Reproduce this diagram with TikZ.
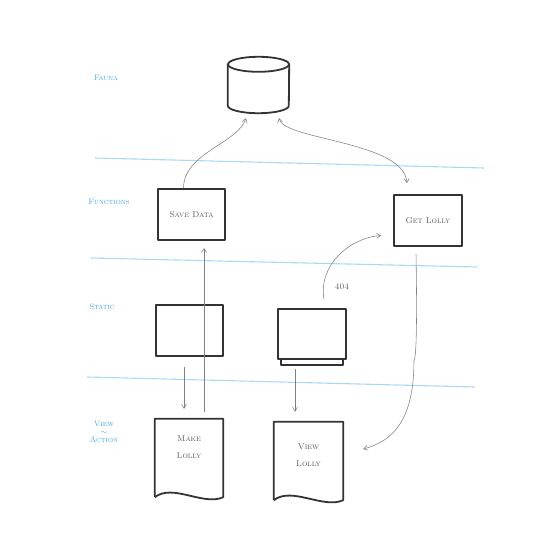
\documentclass[tikz,border=0pt]{standalone}
\usetikzlibrary{arrows.meta}
\definecolor{lblblue}{HTML}{3FA9F5}
\definecolor{laneblue}{HTML}{A9D9F7}
\definecolor{ink}{HTML}{333333}
\definecolor{arrgray}{HTML}{808080}
\definecolor{txtgray}{HTML}{555555}
\tikzset{
  boxline/.style={draw=ink, line width=1.8pt, line join=round},
  sbox/.style={boxline, rectangle, inner sep=0pt},
  ghost/.style={rectangle, inner sep=0pt, draw=none},
  lane/.style={draw=laneblue, line width=1.1pt},
  lanelabel/.style={text=lblblue, font=\scshape\fontsize{8}{10}\selectfont, align=center, inner sep=0pt},
  boxtext/.style={text=txtgray, font=\scshape\fontsize{8.5}{17}\selectfont, align=center, inner sep=0pt},
  arr/.style={draw=arrgray, line width=0.55pt, -{Straight Barb[length=4pt,width=5pt]}},
  darr/.style={draw=arrgray, line width=0.55pt, {Straight Barb[length=4pt,width=5pt]}-{Straight Barb[length=4pt,width=5pt]}}
}
\begin{document}
\begin{tikzpicture}[x=1pt,y=-1pt]
\useasboundingbox[fill=white] (0,0) rectangle (540,559);

% swimlane lines
\draw[lane] (95,158) -- (484,168);
\draw[lane] (91,258) -- (477,267);
\draw[lane] (87,377) -- (475,387);

% lane labels
\node[lanelabel] (lfauna) at (106,78) {Fauna};
\node[lanelabel] (lfunc) at (109,202) {Functions};
\node[lanelabel] (lstatic) at (102,307) {Static};
\node[lanelabel] (lview) at (104,432) {View\\[-2pt]$\sim$\\[-2pt]Action};

% database
\node[ghost, minimum width=61pt, minimum height=56pt] (db) at (258.5,85) {};
\draw[boxline] ([yshift=-7.5pt]db.north) ellipse [x radius=30.5pt, y radius=7.5pt];
\draw[boxline] ([yshift=-7.5pt]db.north west) -- ([yshift=7.5pt]db.south west)
  arc[start angle=180, end angle=360, x radius=30.5pt, y radius=7.5pt]
  -- ([yshift=-7.5pt]db.north east);

% functions
\node[sbox, minimum width=67pt, minimum height=51pt] (sd) at (191.5,214.5) {};
\node[boxtext] (sdt) at (sd.center) {Save Data};
\node[sbox, minimum width=68pt, minimum height=51pt] (gl) at (428,220.5) {};
\node[boxtext] (glt) at (gl.center) {Get Lolly};

% static
\node[sbox, minimum width=67pt, minimum height=51pt] (s1) at (189.5,330.5) {};
\node[sbox, minimum width=68pt, minimum height=50pt] (s2) at (312,334) {};
\draw[boxline] ([xshift=4pt]s2.south west) -- ++(0,5) -- ([xshift=-4pt,yshift=-5pt]s2.south east) -- ([xshift=-4pt]s2.south east);
\node[boxtext] (t404) at (342,287) {404};

% view / action documents
\node[ghost, minimum width=68pt, minimum height=78pt] (ml) at (189,458) {};
\draw[boxline] (ml.south west) -- (ml.north west) -- (ml.north east) -- (ml.south east)
  .. controls +(-20,9) and +(18,-14) .. (ml.south west);
\node[boxtext] (mlt) at ([yshift=11pt]ml.center) {Make\\Lolly};

\node[ghost, minimum width=69pt, minimum height=78pt] (vl) at (308.5,461) {};
\draw[boxline] (vl.south west) -- (vl.north west) -- (vl.north east) -- (vl.south east)
  .. controls +(-20,9) and +(18,-14) .. (vl.south west);
\node[boxtext] (vlt) at ([yshift=6pt]vl.center) {View\\Lolly};

% connectors
\draw[arr] ([xshift=-8pt]sd.north) .. controls +(0,-35) and +(-8,25) .. ([shift={(-12.5pt,-5pt)}]db.south);
\draw[darr] ([shift={(20.5pt,-5pt)}]db.south) .. controls +(5,22) and +(-3,-42) .. ([shift={(-21pt,11pt)}]gl.north);
\draw[arr] ([shift={(12pt,9pt)}]s2.north) .. controls +(-6,-35) and +(-30,2) .. ([shift={(-12pt,-15pt)}]gl.west);
\draw[arr] ([shift={(15pt,7pt)}]ml.north) -- ([shift={(12.5pt,-7pt)}]sd.south);
\draw[arr] ([shift={(-5.5pt,-10pt)}]s1.south) -- ([shift={(-5pt,10pt)}]ml.north);
\draw[arr] ([shift={(-17pt,-9pt)}]s2.south) -- ([shift={(-13.5pt,10pt)}]vl.north);
\draw[arr] ([shift={(-12pt,-7pt)}]gl.south) .. controls +(2,110) and +(0,0) .. (414,360)
  .. controls +(0,60) and +(30,-8) .. ([shift={(20pt,12pt)}]vl.east);
\end{tikzpicture}
\end{document}
